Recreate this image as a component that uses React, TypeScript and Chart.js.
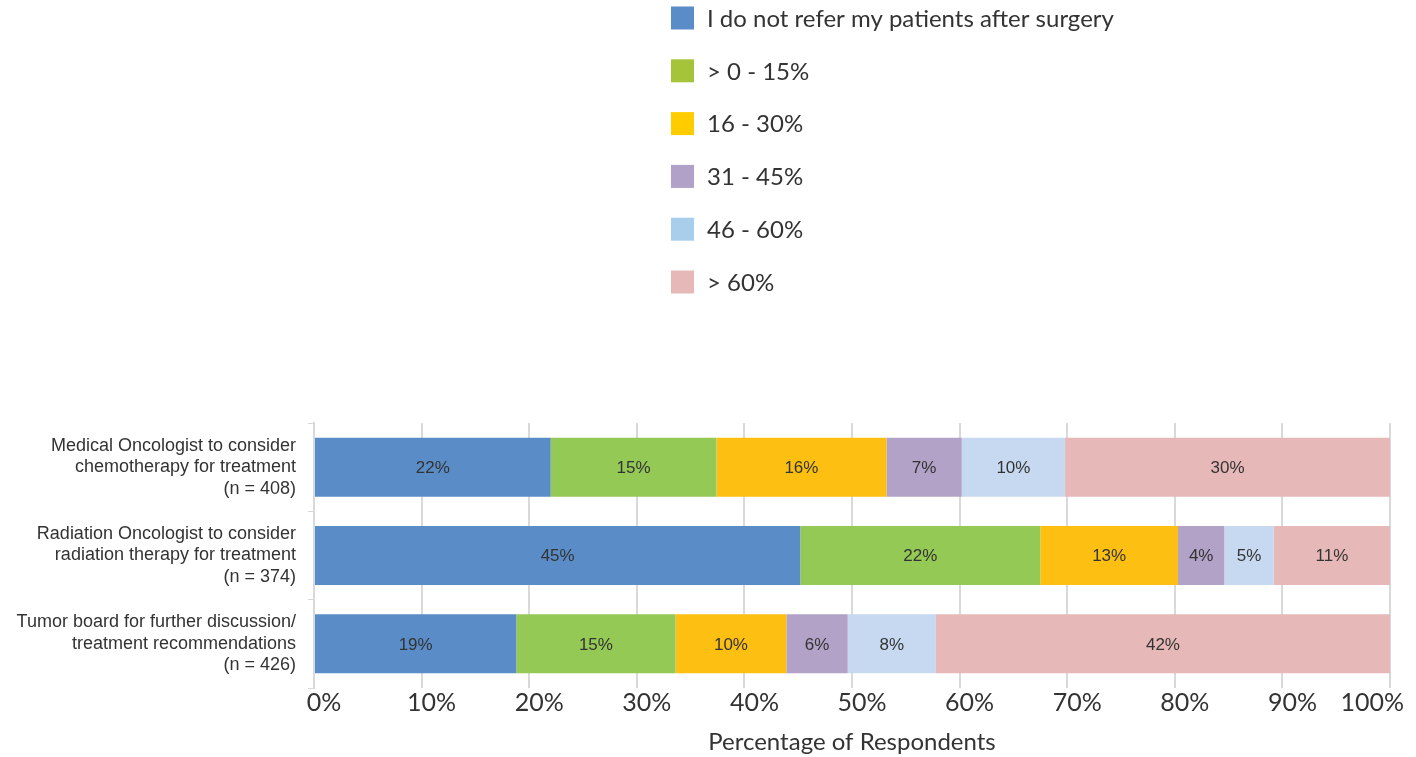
import React, { useEffect, useRef } from "react";
import { Chart, registerables } from "chart.js";

Chart.register(...registerables);

const categories: string[][] = [
  ["Medical Oncologist to consider", "chemotherapy for treatment", "(n = 408)"],
  ["Radiation Oncologist to consider", "radiation therapy for treatment", "(n = 374)"],
  ["Tumor board for further discussion/", "treatment recommendations", "(n = 426)"],
];

const seriesNames = [
  "I do not refer my patients after surgery",
  "> 0 - 15%",
  "16 - 30%",
  "31 - 45%",
  "46 - 60%",
  "> 60%",
];

const noRefer = [22.0, 45.2, 18.8];
const upTo15 = [15.4, 22.3, 14.8];
const from16to30 = [15.8, 12.8, 10.3];
const from31to45 = [7.0, 4.3, 5.7];
const from46to60 = [9.6, 4.6, 8.2];
const over60 = [30.2, 10.8, 42.2];

const seriesValues = [noRefer, upTo15, from16to30, from31to45, from46to60, over60];

const barColors = ["#5A8DC8", "#94C955", "#FCBF12", "#B3A2C7", "#C6D9F0", "#E6B8B7"];
const legendColors = ["#5A8DC8", "#A6C43A", "#FFCC00", "#B1A0C7", "#A9CEEC", "#E6B8B7"];

const xTicks = [0, 10, 20, 30, 40, 50, 60, 70, 80, 90, 100];
const xTickLabels = xTicks.map((v) => v + "%");

const axisTitle = "Percentage of Respondents";

const GEO_FONT = "Lato, 'Open Sans', sans-serif";
const ARIAL = "'Liberation Sans', Arial, sans-serif";

const labelPlugin = {
  id: "barLabels",
  afterDatasetsDraw(chart: any) {
    const ctx = chart.ctx;
    ctx.save();
    ctx.font = `17px ${ARIAL}`;
    ctx.fillStyle = "#333333";
    ctx.textAlign = "center";
    ctx.textBaseline = "middle";
    chart.data.datasets.forEach((ds: any, di: number) => {
      const meta = chart.getDatasetMeta(di);
      meta.data.forEach((el: any, i: number) => {
        const v = ds.data[i];
        const cx = (el.x + el.base) / 2;
        ctx.fillText(Math.round(v) + "%", cx, el.y + 1);
      });
    });
    ctx.restore();
  },
};

const xLabelPlugin = {
  id: "xTickLabels",
  afterDraw(chart: any) {
    const ctx = chart.ctx;
    const sx = chart.scales.x;
    ctx.save();
    ctx.font = `25px ${GEO_FONT}`;
    ctx.fillStyle = "#333333";
    ctx.textAlign = "center";
    ctx.textBaseline = "middle";
    const maxRight = chart.width - 12;
    xTicks.forEach((v, i) => {
      const label = xTickLabels[i];
      const w = ctx.measureText(label).width;
      let cx = sx.getPixelForValue(v) + 10;
      if (cx + w / 2 > maxRight) cx = maxRight - w / 2;
      ctx.fillText(label, cx, sx.top + 15);
    });
    ctx.restore();
  },
};

const legendPlugin = {
  id: "customLegend",
  afterDraw(chart: any) {
    const ctx = chart.ctx;
    const x0 = 671;
    const y0 = 18;
    const gap = 52.8;
    const box = 23;
    ctx.save();
    ctx.font = `24px ${GEO_FONT}`;
    ctx.textBaseline = "middle";
    ctx.textAlign = "left";
    seriesNames.forEach((name, i) => {
      const cy = y0 + i * gap;
      ctx.fillStyle = legendColors[i];
      ctx.fillRect(x0, cy - box / 2, box, box);
      ctx.fillStyle = "#333333";
      ctx.fillText(name, x0 + 36, cy + 1);
    });
    ctx.restore();
  },
};

export default function App() {
  const ref = useRef<HTMLCanvasElement | null>(null);
  useEffect(() => {
    if (!ref.current) return;
    const chart = new Chart(ref.current, {
      type: "bar",
      data: {
        labels: categories,
        datasets: seriesNames.map((name, i) => ({
          label: name,
          data: seriesValues[i],
          backgroundColor: barColors[i],
          borderWidth: 0,
          categoryPercentage: 1,
          barPercentage: 0.667,
        })),
      },
      options: {
        indexAxis: "y",
        responsive: false,
        animation: false,
        layout: { padding: { top: 423, right: 26, left: 0, bottom: 0 } },
        plugins: {
          legend: { display: false },
          tooltip: { enabled: false },
        },
        scales: {
          x: {
            stacked: true,
            min: 0,
            max: 100,
            afterBuildTicks(scale: any) {
              scale.ticks = xTicks.map((v) => ({ value: v }));
            },
            afterFit(scale: any) {
              scale.height = 69;
              scale.paddingRight = 0;
              scale.paddingLeft = 0;
            },
            ticks: {
              display: false,
            },
            grid: { color: "#D9D9D9", lineWidth: 2, drawTicks: false },
            border: { display: false },
            title: {
              display: true,
              text: axisTitle,
              font: { family: GEO_FONT, size: 24 },
              color: "#333333",
              padding: { top: 0, bottom: 0 },
            },
          },
          y: {
            stacked: true,
            afterFit(scale: any) {
              scale.width = 314;
            },
            ticks: {
              font: { family: ARIAL, size: 18, lineHeight: 1.2 },
              color: "#333333",
              padding: 12,
            },
            grid: {
              drawOnChartArea: false,
              drawTicks: true,
              tickLength: 6,
              color: "#D9D9D9",
              lineWidth: 1,
              offset: true,
            },
            border: { display: true, color: "#D9D9D9", width: 2 },
          },
        },
      },
      plugins: [labelPlugin, xLabelPlugin, legendPlugin],
    } as any);
    return () => chart.destroy();
  }, []);
  return (
    <div style={{ position: "fixed", left: 0, top: 0, width: 1416, height: 757, background: "#ffffff" }}>
      <canvas ref={ref} width={1416} height={757} />
    </div>
  );
}
